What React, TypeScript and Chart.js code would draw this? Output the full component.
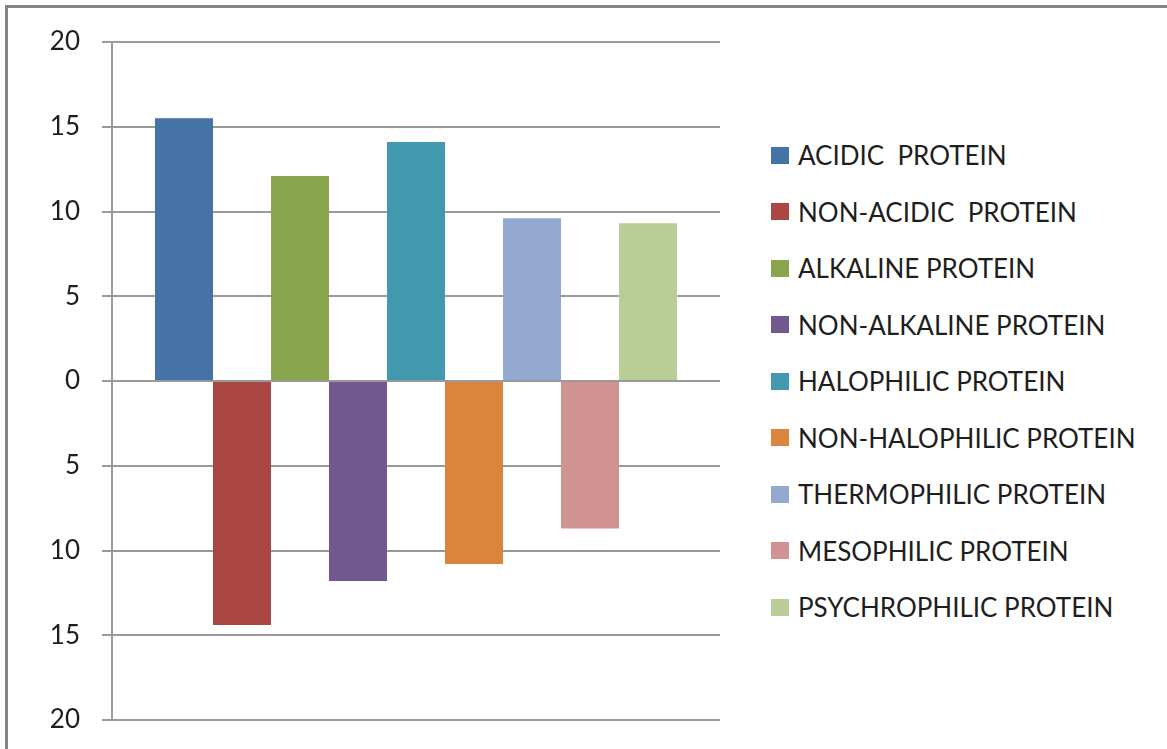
import React, { useEffect, useRef } from "react";
import { Chart, registerables } from "chart.js";

Chart.register(...registerables);

// One category, nine series drawn side by side as a clustered column group.
const categories = [""];
const seriesNames = [
  "ACIDIC  PROTEIN",
  "NON-ACIDIC  PROTEIN",
  "ALKALINE PROTEIN",
  "NON-ALKALINE PROTEIN",
  "HALOPHILIC PROTEIN",
  "NON-HALOPHILIC PROTEIN",
  "THERMOPHILIC PROTEIN",
  "MESOPHILIC PROTEIN",
  "PSYCHROPHILIC PROTEIN",
];
const seriesValues = [15.5, -14.4, 12.1, -11.8, 14.1, -10.8, 9.6, -8.7, 9.3];
const seriesColors = [
  "#4572A7",
  "#AA4643",
  "#89A54E",
  "#71588F",
  "#4198AF",
  "#DB843D",
  "#93A9CF",
  "#D19392",
  "#B9CD96",
];
const yMin = -20;
const yMax = 20;
const yStep = 5;

const FONT = "Lato, 'Open Sans', sans-serif";
const TEXT_COLOR = "#1e1e1e";
const GRID_COLOR = "#9a9a9a";

export default function App() {
  const canvasRef = useRef<HTMLCanvasElement | null>(null);

  useEffect(() => {
    document.body.style.margin = "0";
    document.body.style.overflow = "hidden";
    const canvas = canvasRef.current;
    if (!canvas) return;
    const chart = new Chart(canvas, {
      type: "bar",
      data: {
        labels: categories,
        datasets: seriesNames.map((name, i) => ({
          label: name,
          data: [seriesValues[i]],
          backgroundColor: seriesColors[i],
          borderWidth: 0,
          categoryPercentage: 0.8586,
          barPercentage: 1,
        })),
      },
      options: {
        responsive: false,
        animation: false,
        layout: { padding: { left: 0, right: 40, top: 42, bottom: 29 } },
        plugins: {
          legend: { display: false },
          tooltip: { enabled: false },
        },
        scales: {
          x: { display: false },
          y: {
            min: yMin,
            max: yMax,
            afterFit: (scale: any) => {
              // fixed axis width; outer labels may overflow the plot edges
              scale.width = 112;
              scale.paddingTop = 0;
              scale.paddingBottom = 0;
            },
            ticks: {
              stepSize: yStep,
              padding: 22,
              color: TEXT_COLOR,
              font: { family: FONT, size: 26 },
              callback: (v: any) => String(Math.abs(Number(v))),
            },
            grid: {
              color: GRID_COLOR,
              lineWidth: 2,
              tickLength: 10,
              drawTicks: true,
            },
            border: { display: true, color: GRID_COLOR, width: 2 },
          },
        },
      },
    });
    return () => chart.destroy();
  }, []);

  const rowTop = 155;
  const rowGap = 56.5;

  return (
    <div
      style={{
        position: "absolute",
        left: 0,
        top: 0,
        width: 1167,
        height: 749,
        overflow: "hidden",
        background: "#fff",
      }}
    >
      <div
        style={{
          position: "absolute",
          left: 5,
          top: 5,
          width: 1300,
          height: 900,
          border: "3px solid #858585",
          boxSizing: "border-box",
        }}
      />
      <canvas
        ref={canvasRef}
        width={760}
        height={749}
        style={{ position: "absolute", left: 0, top: 0, width: 760, height: 749 }}
      />
      {seriesNames.map((name, i) => (
        <div
          key={name}
          style={{
            position: "absolute",
            left: 771,
            top: rowTop + i * rowGap - 15,
            height: 30,
            display: "flex",
            alignItems: "center",
            fontFamily: FONT,
            fontSize: 26,
            color: TEXT_COLOR,
            whiteSpace: "pre",
          }}
        >
          <span
            style={{
              display: "inline-block",
              width: 18,
              height: 17,
              background: seriesColors[i],
              marginRight: 9,
            }}
          />
          <span>{name}</span>
        </div>
      ))}
    </div>
  );
}
